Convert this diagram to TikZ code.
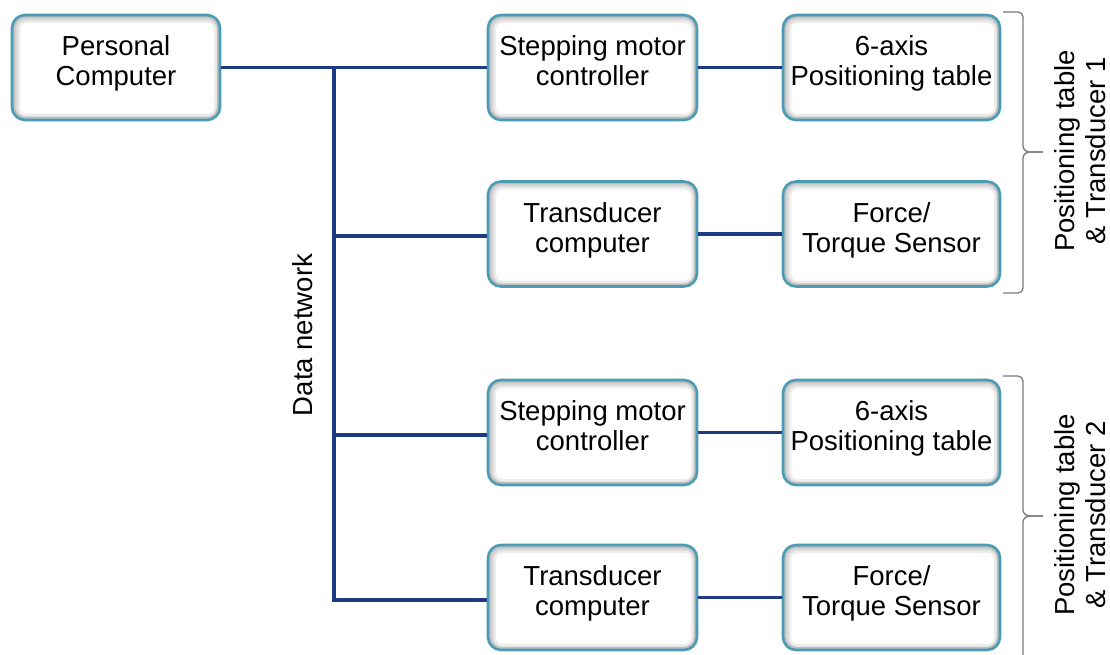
\documentclass[tikz,border=0pt]{standalone}
\usepackage{fontspec}
\setmainfont{Liberation Sans}
\definecolor{boxedge}{HTML}{4A9BB3}
\definecolor{netline}{HTML}{1E3A82}
\definecolor{bracecol}{HTML}{7A7A7A}
\begin{document}
\begin{tikzpicture}[x=1pt,y=-1pt,
  box/.style={draw=boxedge, line width=2.6pt, fill=white, rounded corners=13pt,
    minimum height=105pt, align=center, inner sep=2pt, text depth=13pt,
    font=\fontsize{27.5}{30}\selectfont,
    path picture={
      \draw[gray!15, line width=14pt, rounded corners=13pt]
        ([shift={(1pt,-1pt)}]path picture bounding box.south west) rectangle ([shift={(1pt,-1pt)}]path picture bounding box.north east);
      \draw[gray!30, line width=9pt, rounded corners=13pt]
        ([shift={(1pt,-1pt)}]path picture bounding box.south west) rectangle ([shift={(1pt,-1pt)}]path picture bounding box.north east);
      \draw[gray!50, line width=6pt, rounded corners=13pt]
        (path picture bounding box.south west) rectangle (path picture bounding box.north east);
    }},
  leftbox/.style={box, minimum width=208pt},
  midbox/.style={box, minimum width=209pt},
  rightbox/.style={box, minimum width=217pt},
  net/.style={draw=netline, line width=3.4pt},
  bracepath/.style={draw=bracecol, line width=1.3pt},
  sidelabel/.style={rotate=90, align=center, font=\fontsize{27.5}{31}\selectfont}
]
\useasboundingbox (0,0) rectangle (1110,655);

\node[leftbox] (pc) at (116,67.5) {Personal\\Computer};
\node[midbox] (smc1) at (592.5,67.5) {Stepping motor\\controller};
\node[rightbox] (tab1) at (891.5,67.5) {6-axis\\Positioning table};
\node[midbox] (tc1) at (592.5,234) {Transducer\\computer};
\node[rightbox] (fts1) at (891.5,234) {Force/\\Torque Sensor};
\node[midbox] (smc2) at (592.5,432.5) {Stepping motor\\controller};
\node[rightbox] (tab2) at (891.5,432.5) {6-axis\\Positioning table};
\node[midbox] (tc2) at (592.5,597.5) {Transducer\\computer};
\node[rightbox] (fts2) at (891.5,597.5) {Force/\\Torque Sensor};

\coordinate (top) at (334,67.5);
\coordinate (b2) at (334,236);
\coordinate (b3) at (334,435);
\coordinate (b4) at (334,600);

\draw[net] (pc.east) -- (smc1.west);
\draw[net, line join=miter] (top) -- (b4) -- (b4 -| tc2.west);
\draw[net] (b2) -- (b2 -| tc1.west);
\draw[net] (b3) -- (b3 -| smc2.west);
\draw[net] (smc1.east) -- (tab1.west);
\draw[net] (tc1.east) -- (fts1.west);
\draw[net] (smc2.east) -- (tab2.west);
\draw[net] (tc2.east) -- (fts2.west);

\node[rotate=90, font=\fontsize{27.5}{30}\selectfont] (dn) at (303,335) {Data network};

\draw[bracepath] (1003,12) -- (1018,12) to[out=0,in=90] (1023,17) -- (1023,146)
  to[out=-90,in=180] (1030,152) -- (1043,152);
\draw[bracepath] (1043,152) -- (1030,152) to[out=180,in=90] (1023,158) -- (1023,288)
  to[out=-90,in=0] (1018,293) -- (1003,293);
\draw[bracepath] (1003,376) -- (1018,376) to[out=0,in=90] (1023,381) -- (1023,510)
  to[out=-90,in=180] (1030,516) -- (1043,516);
\draw[bracepath] (1043,516) -- (1030,516) to[out=180,in=90] (1023,522) -- (1023,660);

\node[sidelabel] (lab1) at (1080,151) {Positioning table\\\& Transducer 1};
\node[sidelabel] (lab2) at (1080,515) {Positioning table\\\& Transducer 2};
\end{tikzpicture}
\end{document}
